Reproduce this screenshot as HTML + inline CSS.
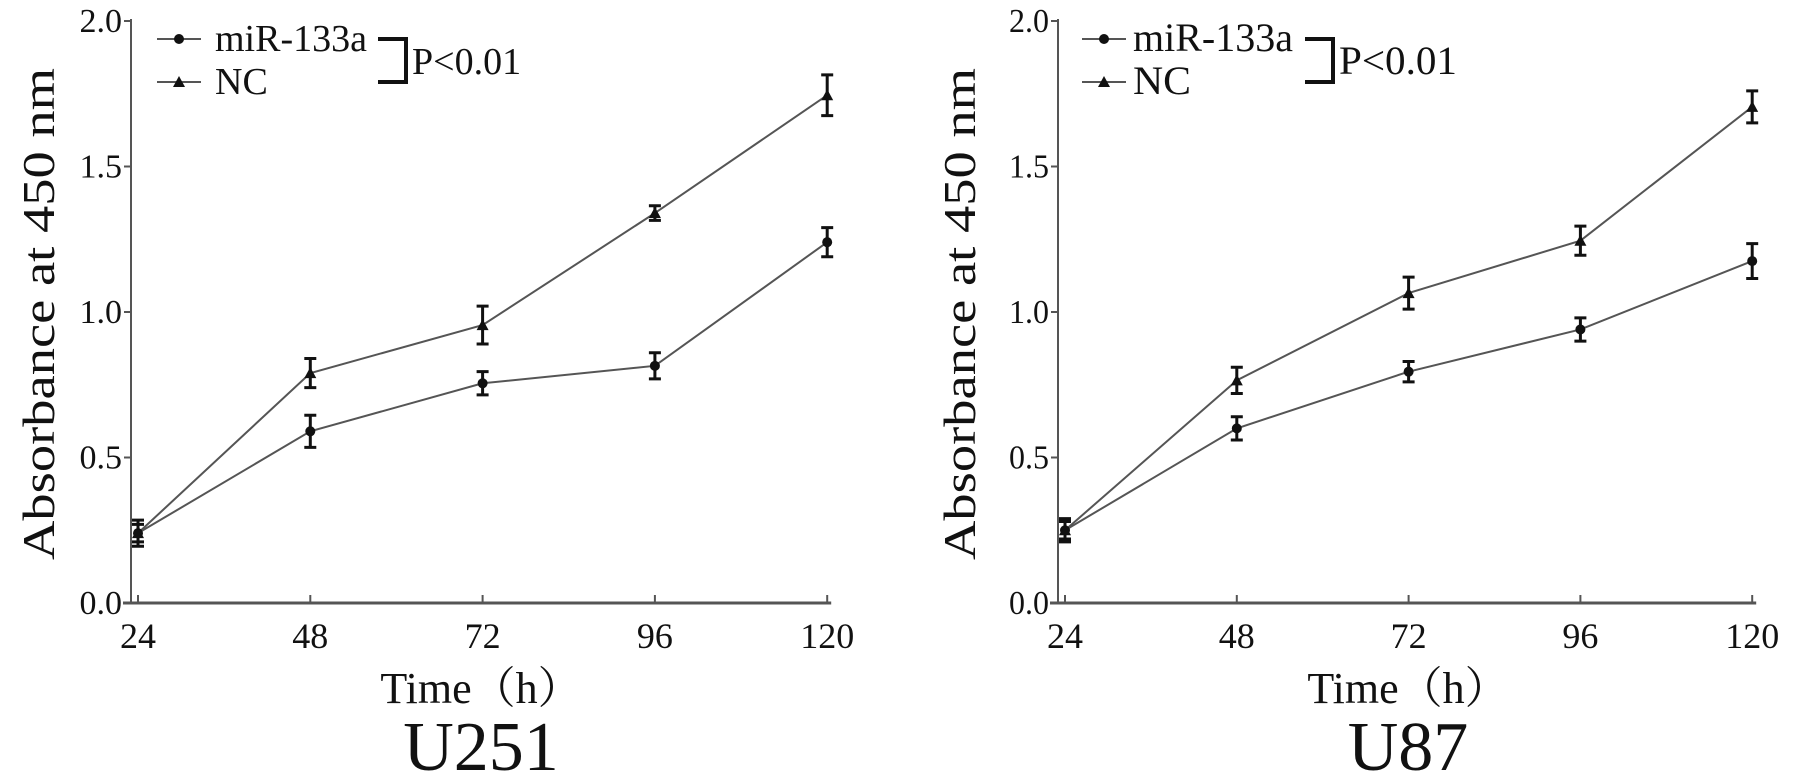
<!DOCTYPE html>
<html><head><meta charset="utf-8"><style>
html,body{margin:0;padding:0;background:#fff}
svg{display:block;font-family:"Liberation Serif",serif}
</style></head><body>
<svg id="c" width="1795" height="774" viewBox="0 0 1795 774" xmlns="http://www.w3.org/2000/svg"></svg>
<script>
const timeCategories=[24,48,72,96,120];
const yTickValues=[0,0.5,1.0,1.5,2.0];
const yTickLabels=["0.0","0.5","1.0","1.5","2.0"];
const u251Mir=[0.24,0.59,0.755,0.815,1.24];
const u251MirErr=[0.045,0.055,0.04,0.045,0.05];
const u251Nc=[0.24,0.79,0.955,1.34,1.745];
const u251NcErr=[0.03,0.05,0.065,0.025,0.07];
const u87Mir=[0.25,0.60,0.795,0.94,1.175];
const u87MirErr=[0.04,0.04,0.035,0.04,0.06];
const u87Nc=[0.25,0.765,1.065,1.245,1.705];
const u87NcErr=[0.03,0.045,0.055,0.05,0.055];

const NS="http://www.w3.org/2000/svg";
const svg=document.getElementById('c');
function mk(tag,attrs,parent){const e=document.createElementNS(NS,tag);for(const k in attrs)e.setAttribute(k,attrs[k]);(parent||svg).appendChild(e);return e;}
function squeeze(t,len){t.setAttribute('textLength',len);t.setAttribute('lengthAdjust','spacingAndGlyphs');}

function panel(cfg){
  const g=mk('g',{});
  
  
  const y0=603,yTop=21;
  const ys=v=>y0-v*(y0-yTop)/2;
  const xs=t=>cfg.x24+(t-24)*cfg.step/24;
  const ya=mk('line',{x1:cfg.ax,y1:yTop-2,x2:cfg.ax,y2:y0,stroke:'#555','stroke-width':2},g);
  
  
  const xa=mk('line',{x1:cfg.ax-8,y1:y0,x2:xs(120)+4,y2:y0,stroke:'#555','stroke-width':3},g);
  
  
  yTickValues.forEach((v,i)=>{
    mk('line',{x1:cfg.ax-7,y1:ys(v),x2:cfg.ax,y2:ys(v),stroke:'#555','stroke-width':2},g);
    const t=mk('text',{x:cfg.ax-9,y:ys(v)+11,'text-anchor':'end','font-size':cfg.tickFs,fill:'#111'},g);
    t.textContent=yTickLabels[i];
    if(cfg.narrow)squeeze(t,cfg.tickLen);
    
    
  });
  timeCategories.forEach(c=>{
    mk('line',{x1:xs(c),y1:y0-8,x2:xs(c),y2:y0,stroke:'#555','stroke-width':2},g);
    const t=mk('text',{x:xs(c),y:648,'text-anchor':'middle','font-size':36,fill:'#111'},g);
    t.textContent=c;
    
    
  });
  function series(vals,errs,marker,nm){
    const pts=vals.map((v,i)=>xs(timeCategories[i])+','+ys(v)).join(' ');
    const pl=mk('polyline',{points:pts,fill:'none',stroke:'#555','stroke-width':2},g);
    
    
    vals.forEach((v,i)=>{
      const x=xs(timeCategories[i]),y=ys(v),e=errs[i]*(y0-yTop)/2;
      const p=mk('path',{d:`M${x},${y-e}V${y+e}M${x-6},${y-e}H${x+6}M${x-6},${y+e}H${x+6}`,stroke:'#111','stroke-width':3,fill:'none'},g);
      
      
      let m;
      if(marker==='circle')m=mk('circle',{cx:x,cy:y,r:5,fill:'#111'},g);
      else m=mk('path',{d:`M${x},${y-6}L${x+6},${y+5}L${x-6},${y+5}Z`,fill:'#111'},g);
      
      
    });
  }
  series(cfg.nc,cfg.ncErr,'tri','nc');
  series(cfg.mir,cfg.mirErr,'circle','mir-133a');
  const yt=mk('text',{x:0,y:0,transform:`translate(${cfg.ytx},314) rotate(-90)`,'text-anchor':'middle','font-size':cfg.ytFs,fill:'#111'},g);
  yt.textContent='Absorbance at 450 nm';
  squeeze(yt,cfg.ytLen);
  
  
  const xt=mk('text',{x:cfg.cx,y:703,'text-anchor':'middle','font-size':44,fill:'#111'},g);
  xt.textContent='Time（h）';
  xt.setAttribute('font-family','"Liberation Serif","Noto Serif CJK SC",serif');
  
  
  const pt=mk('text',{x:cfg.cx,y:770,'text-anchor':'middle','font-size':70,fill:'#111'},g);
  pt.textContent=cfg.name==='u251'?'U251':'U87';
  
  
  const L=cfg.leg;
  [['miR-133a',39,'circle'],['NC',82,'tri']].forEach(([lab,y,mkr])=>{
    const le=mk('g',{},g);
    
    
    mk('line',{x1:L.lx,y1:y,x2:L.lx+L.lw,y2:y,stroke:'#555','stroke-width':2},le);
    const mx=L.lx+L.lw/2;
    if(mkr==='circle')mk('circle',{cx:mx,cy:y,r:5,fill:'#111'},le);
    else mk('path',{d:`M${mx},${y-6}L${mx+6},${y+5}L${mx-6},${y+5}Z`,fill:'#111'},le);
    const t=mk('text',{x:L.tx,y:y+12,'font-size':L.fs,fill:'#111'},le);
    t.textContent=lab;
    if(L.narrow)squeeze(t,lab==='NC'?L.ncLen:L.mirLen);
  });
  const br=mk('path',{d:`M${L.bx},39H${L.bx+L.bw}V82H${L.bx}`,fill:'none',stroke:'#111','stroke-width':4},g);
  
  
  const pv=mk('text',{x:L.bx+L.bw+6,y:74,'font-size':L.fs,fill:'#111'},g);
  pv.textContent='P<0.01';
  if(L.narrow)squeeze(pv,L.pLen);
  
  
}
panel({name:'u251',ax:131,x24:138,step:172.3,ytx:54,ytFs:46,ytLen:492,cx:481,tickFs:34,
  mir:u251Mir,mirErr:u251MirErr,nc:u251Nc,ncErr:u251NcErr,
  leg:{lx:157,lw:44,tx:215,bx:378,bw:28,fs:38}});
panel({name:'u87',ax:1058,x24:1065,step:171.8,ytx:975,ytFs:46,ytLen:492,cx:1408,tickFs:34,narrow:true,tickLen:40,
  mir:u87Mir,mirErr:u87MirErr,nc:u87Nc,ncErr:u87NcErr,
  leg:{lx:1082,lw:44,tx:1133,bx:1305,bw:28,fs:40,narrow:true,mirLen:160,ncLen:58,pLen:118}});
</script>
</body></html>
